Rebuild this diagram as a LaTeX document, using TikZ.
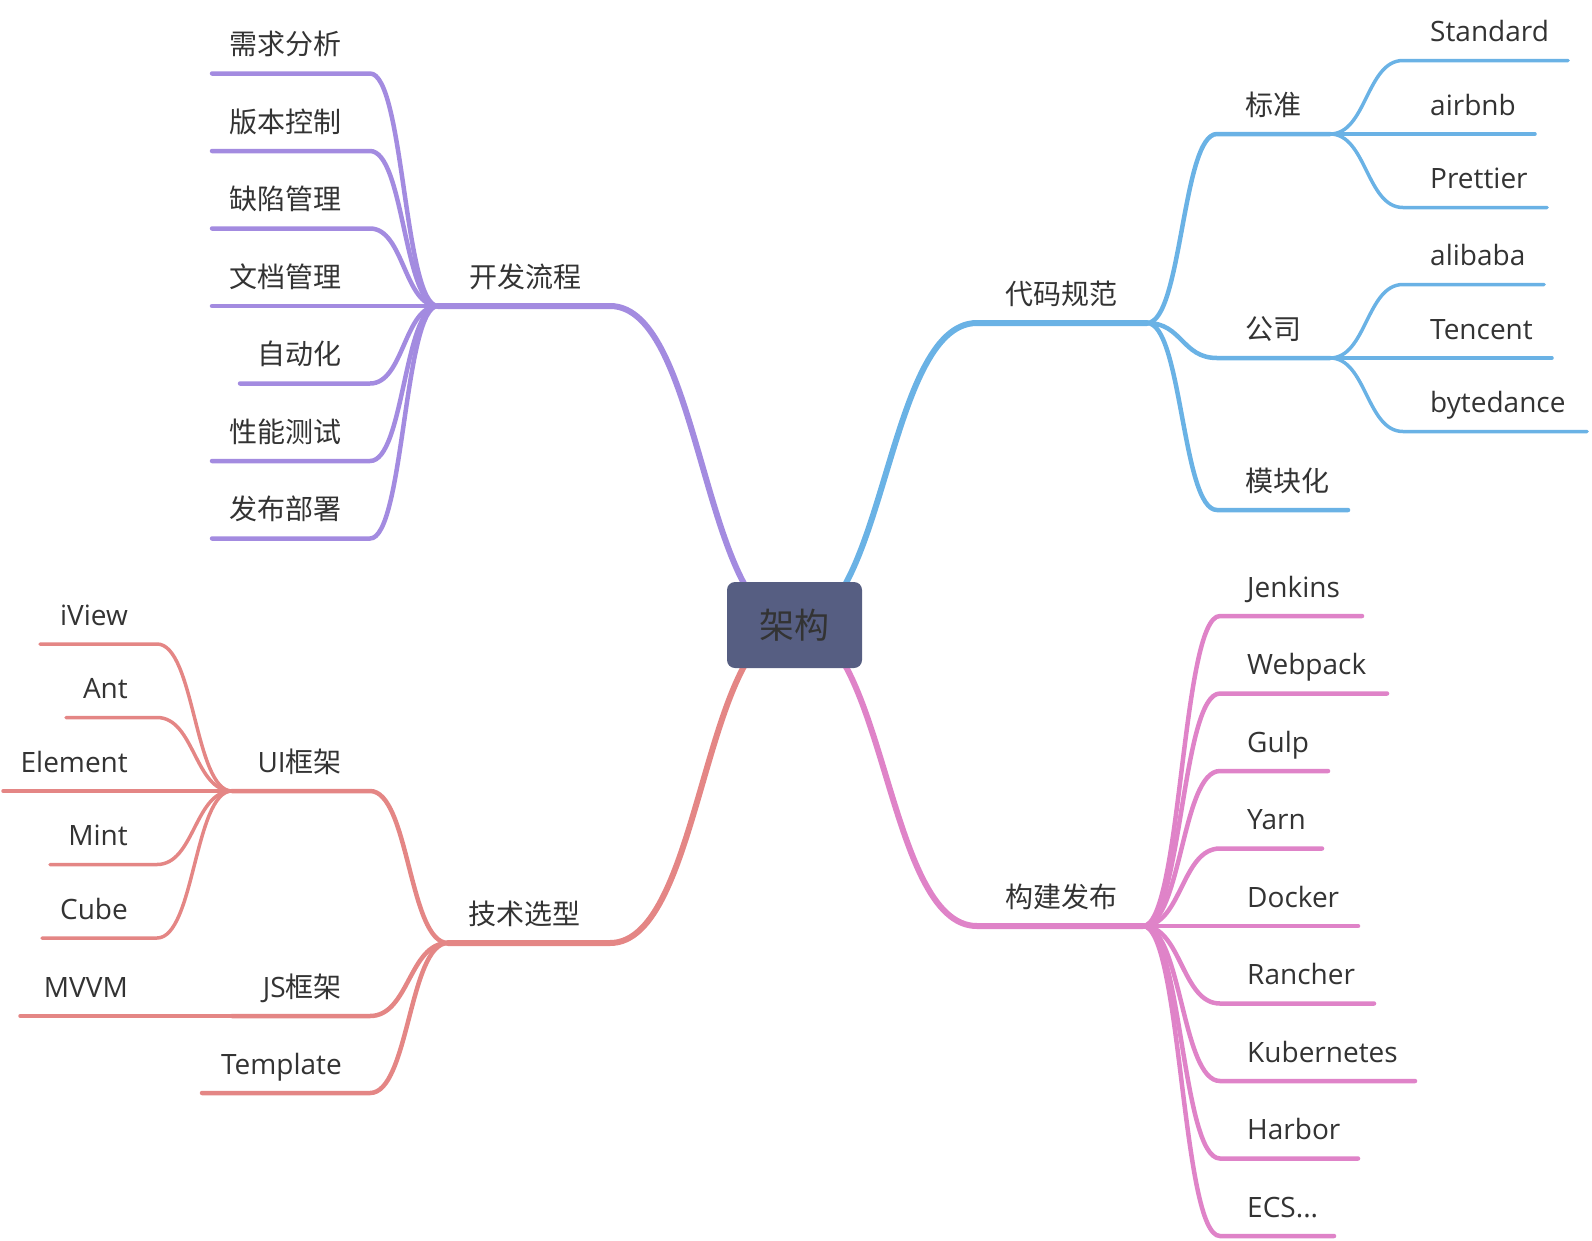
\documentclass[tikz,border=0pt]{standalone}
\usepackage{fontspec}
\setmainfont{Open Sans}
\newfontfamily\cjk{Noto Sans CJK SC}
\usetikzlibrary{calc}

\definecolor{devcol}{HTML}{A38BE0}
\definecolor{codecol}{HTML}{6AB2E5}
\definecolor{buildcol}{HTML}{DF83C8}
\definecolor{techcol}{HTML}{E48685}
\definecolor{rootcol}{HTML}{565E82}
\definecolor{ink}{HTML}{333333}

\begin{document}
\begin{tikzpicture}[x=1pt, y=-1pt, line cap=round,
    twig/.style={to path={.. controls ($(\tikztostart)!.5!(\tikztostart-|\tikztotarget)$)
        and ($(\tikztotarget)!.5!(\tikztotarget-|\tikztostart)$) .. (\tikztotarget)}},
    main/.style={line width=6pt},
    sub/.style={line width=4.5pt},
    leaf/.style={line width=3.5pt},
    lbl/.style={font=\fontsize{28}{34}\selectfont, text=ink, inner sep=0pt},
    lft/.style={lbl, anchor=base east},
    rgt/.style={lbl, anchor=base west},
    rootbox/.style={fill=rootcol, rounded corners=8pt, minimum width=135pt,
        minimum height=86pt, text=ink, font=\cjk\fontsize{35}{42}\selectfont}]
  \useasboundingbox (0,0) rectangle (1592,1240);
  \coordinate (core) at (794.5,625);

  % 开发流程
  \coordinate (dev0) at (610,306);
  \coordinate (dev1) at (438,306);
  \draw[devcol, main] (core) to[twig] (dev0) -- (dev1);
  \node[lft] (dev) at (582,287) {\cjk 开发流程};
  \foreach \y/\x/\lab [count=\i] in {73.5/212/需求分析, 151/212/版本控制, 228.5/212/缺陷管理,
      306/212/文档管理, 383.5/240/自动化, 461/212/性能测试, 538.5/212/发布部署}{
    \coordinate (devA\i) at (370,\y);
    \coordinate (devB\i) at (\x,\y);
    \draw[devcol, sub] (dev1) to[twig] (devA\i) -- (devB\i);
    \node[lft] (devT\i) at (342,\y-19) {\cjk \lab};
  }

  % 技术选型
  \coordinate (tech0) at (610,943);
  \coordinate (tech1) at (448,943);
  \draw[techcol, main] (core) to[twig] (tech0) -- (tech1);
  \node[lft] (tech) at (581,924) {\cjk 技术选型};
  \coordinate (ui0) at (370,791);   \coordinate (ui1) at (232,791);
  \coordinate (js0) at (370,1016);  \coordinate (js1) at (232,1016);
  \coordinate (tpl0) at (370,1093); \coordinate (tpl1) at (202,1093);
  \draw[techcol, sub] (tech1) to[twig] (ui0) -- (ui1);
  \draw[techcol, sub] (tech1) to[twig] (js0) -- (js1);
  \draw[techcol, sub] (tech1) to[twig] (tpl0) -- (tpl1);
  \node[lft] (ui) at (342,772) {UI\cjk 框架};
  \node[lft] (js) at (342,997) {JS\cjk 框架};
  \node[lft] (tpl) at (342,1074) {Template};
  \foreach \y/\x/\lab [count=\i] in {644/40/iView, 717.5/66/Ant, 791/3/Element,
      864.5/50/Mint, 938/42/Cube}{
    \coordinate (uiA\i) at (157,\y);
    \coordinate (uiB\i) at (\x,\y);
    \draw[techcol, leaf] (ui1) to[twig] (uiA\i) -- (uiB\i);
    \node[lft] (uiT\i) at (128,\y-19) {\lab};
  }
  \coordinate (mvvm) at (20,1016);
  \draw[techcol, leaf] (js1) -- (mvvm);
  \node[lft] (mvvmT) at (128,997) {MVVM};

  % 代码规范
  \coordinate (code0) at (977,323);
  \coordinate (code1) at (1147,323);
  \draw[codecol, main] (core) to[twig] (code0) -- (code1);
  \node[rgt] (code) at (1005,304) {\cjk 代码规范};
  \coordinate (std0) at (1217,134);  \coordinate (std1) at (1330,134);
  \coordinate (firm0) at (1217,358); \coordinate (firm1) at (1330,358);
  \coordinate (mod0) at (1217,510);  \coordinate (mod1) at (1348,510);
  \draw[codecol, sub] (code1) to[twig] (std0) -- (std1);
  \draw[codecol, sub] (code1) to[twig] (firm0) -- (firm1);
  \draw[codecol, sub] (code1) to[twig] (mod0) -- (mod1);
  \node[rgt] (std) at (1245,115) {\cjk 标准};
  \node[rgt] (firm) at (1245,339) {\cjk 公司};
  \node[rgt] (mod) at (1245,491) {\cjk 模块化};
  \foreach \y/\x/\lab [count=\i] in {60.5/1568/Standard, 134/1535/airbnb, 207.5/1547/Prettier}{
    \coordinate (stdA\i) at (1403,\y);
    \coordinate (stdB\i) at (\x,\y);
    \draw[codecol, leaf] (std1) to[twig] (stdA\i) -- (stdB\i);
    \node[rgt] (stdT\i) at (1430,\y-19) {\lab};
  }
  \foreach \y/\x/\lab [count=\i] in {284.5/1544/alibaba, 358/1552/Tencent, 431.5/1587/bytedance}{
    \coordinate (firmA\i) at (1403,\y);
    \coordinate (firmB\i) at (\x,\y);
    \draw[codecol, leaf] (firm1) to[twig] (firmA\i) -- (firmB\i);
    \node[rgt] (firmT\i) at (1430,\y-19) {\lab};
  }

  % 构建发布
  \coordinate (build0) at (977,926);
  \coordinate (build1) at (1143,926);
  \draw[buildcol, main] (core) to[twig] (build0) -- (build1);
  \node[rgt] (build) at (1005,907) {\cjk 构建发布};
  \foreach \y/\x/\lab [count=\i] in {616/1362/Jenkins, 693.5/1387/Webpack, 771/1328/Gulp,
      848.5/1322/Yarn, 926/1358/Docker, 1003.5/1374/Rancher, 1081/1415/Kubernetes,
      1158.5/1358/Harbor, 1236/1334/{ECS...}}{
    \coordinate (buildA\i) at (1220,\y);
    \coordinate (buildB\i) at (\x,\y);
    \draw[buildcol, sub] (build1) to[twig] (buildA\i) -- (buildB\i);
    \node[rgt] (buildT\i) at (1247,\y-19) {\lab};
  }

  \node[rootbox] (root) at (core) {架构};
\end{tikzpicture}
\end{document}
